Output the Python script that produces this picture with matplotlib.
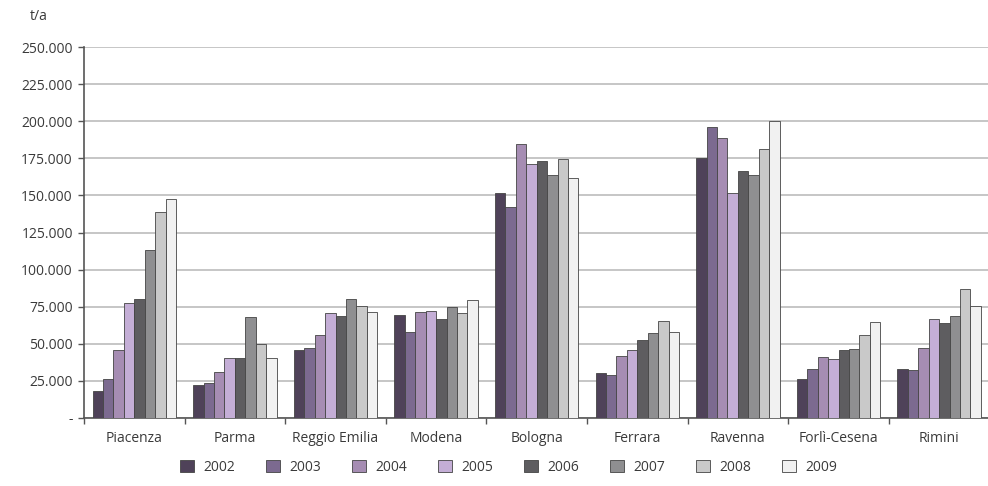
import matplotlib
matplotlib.use("Agg")
import matplotlib.pyplot as plt
import numpy as np
from matplotlib.ticker import FuncFormatter

plt.rcParams['font.family'] = ['Open Sans', 'DejaVu Sans']

provinces = ["Piacenza", "Parma", "Reggio Emilia", "Modena", "Bologna",
             "Ferrara", "Ravenna", "Forlì-Cesena", "Rimini"]
years = ["2002", "2003", "2004", "2005", "2006", "2007", "2008", "2009"]

v2002 = [18500, 22000, 45800, 69400, 151400, 30000, 175400, 26300, 33000]
v2003 = [26500, 23500, 47000, 58000, 142400, 28800, 196300, 32800, 32300]
v2004 = [45800, 31000, 56000, 71200, 184400, 41800, 188500, 41300, 47000]
v2005 = [77500, 40600, 70700, 72000, 171000, 45800, 151400, 39800, 66700]
v2006 = [80000, 40600, 68700, 66700, 173000, 52600, 166400, 45800, 63800]
v2007 = [113000, 68000, 80000, 75000, 163700, 57300, 163700, 46700, 69000]
v2008 = [139000, 49700, 75500, 70500, 174500, 65400, 181000, 55700, 86700]
v2009 = [147600, 40600, 71600, 79500, 162000, 58000, 200000, 64900, 75500]
series = [v2002, v2003, v2004, v2005, v2006, v2007, v2008, v2009]

colors = ["#4f4259", "#7c6a90", "#a68db3", "#c4aed6",
          "#5e5d60", "#8f8f91", "#c9c9c9", "#f1f1f1"]

fig = plt.figure(figsize=(9.88, 4.86), dpi=100)
ax = fig.add_axes([84/988, 1-418/486, 9*100.6/988, (418-47)/486])

n = len(years)
group_w = 0.83
bw = group_w / n
x = np.arange(len(provinces))
for i, (vals, c) in enumerate(zip(series, colors)):
    ax.bar(x - group_w/2 + bw*(i+0.5), vals, width=bw, color=c,
           edgecolor="#444444", linewidth=0.6, label=years[i], zorder=3)

ax.set_xlim(-0.5, len(provinces)-0.5)
ax.set_ylim(0, 250000)
ax.set_yticks(np.arange(0, 250001, 25000))

def fmt(v, pos):
    if v == 0:
        return "-"
    return f"{int(v):,}".replace(",", ".")
ax.yaxis.set_major_formatter(FuncFormatter(fmt))

ax.set_xticks(x)
ax.set_xticklabels(provinces)
ax.set_xticks(np.arange(-0.5, len(provinces), 1.0), minor=True)
ax.tick_params(axis='x', which='major', length=0, pad=9, labelsize=10, colors="#3a3a3a")
ax.tick_params(axis='x', which='minor', length=4, width=1, color="#555555", direction='out')
ax.tick_params(axis='y', length=4, width=1, color="#555555", labelsize=10, colors="#3a3a3a", pad=4)

ax.grid(axis='y', color="#c2c2c2", linewidth=1.3, zorder=0)
ax.set_axisbelow(True)
for s in ["top", "right"]:
    ax.spines[s].set_visible(False)
for s in ["left", "bottom"]:
    ax.spines[s].set_color("#555555")
    ax.spines[s].set_linewidth(1.2)

fig.text(30/988, 1-16/486, "t/a", fontsize=10, color="#3a3a3a", va='center')

leg = fig.legend(loc='center', bbox_to_anchor=(0.515, 1-467/486), ncol=8,
                 frameon=False, fontsize=10, handlelength=1.0, handleheight=1.0,
                 columnspacing=2.2, handletextpad=0.7)
for t in leg.get_texts():
    t.set_color("#3a3a3a")

fig.savefig("out.png", dpi=100)
